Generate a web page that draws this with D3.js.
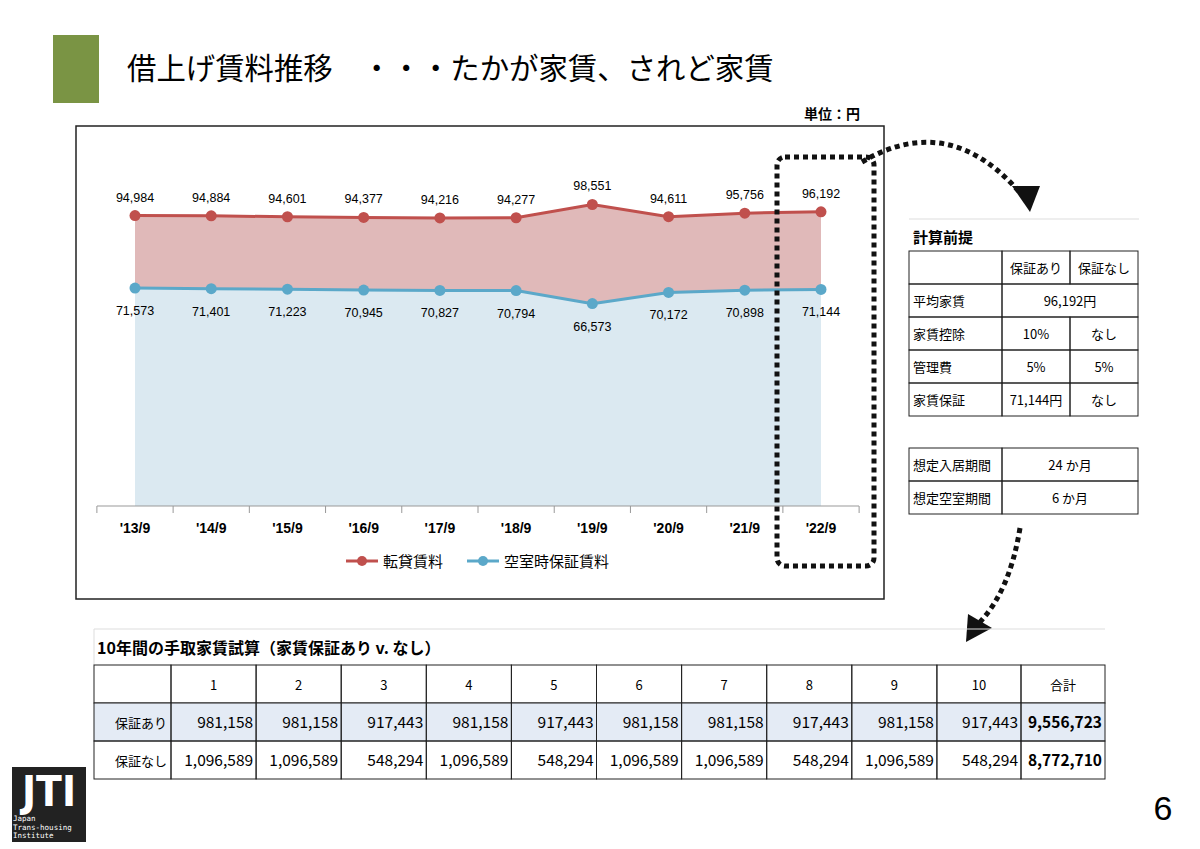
<!DOCTYPE html>
<html><head><meta charset="utf-8">
<script src="https://cdn.jsdelivr.net/npm/d3@7"></script>
<style>body{margin:0;background:#fff;font-family:"Noto Sans CJK JP","Noto Sans",sans-serif}</style>
</head><body>
<script>
const years = ["'13/9","'14/9","'15/9","'16/9","'17/9","'18/9","'19/9","'20/9","'21/9","'22/9"];
const rentValues = [94984,94884,94601,94377,94216,94277,98551,94611,95756,96192];
const guaranteeValues = [71573,71401,71223,70945,70827,70794,66573,70172,70898,71144];
const premiseRows = [["","保証あり","保証なし"],["平均家賃","96,192円",null],["家賃控除","10%","なし"],["管理費","5%","5%"],["家賃保証","71,144円","なし"]];
const periodRows = [["想定入居期間","24 か月"],["想定空室期間","6 か月"]];
const yearCols = ["1","2","3","4","5","6","7","8","9","10","合計"];
const withGuarantee = ["981,158","981,158","917,443","981,158","917,443","981,158","981,158","917,443","981,158","917,443","9,556,723"];
const withoutGuarantee = ["1,096,589","1,096,589","548,294","1,096,589","548,294","1,096,589","1,096,589","548,294","1,096,589","548,294","8,772,710"];

const F = '"Noto Sans CJK JP",sans-serif';
const svg = d3.select("body").append("svg").attr("width",1200).attr("height",849).style("font-family",F);

// header
svg.append("rect").attr("x",53).attr("y",35).attr("width",46).attr("height",68).attr("fill","#7a9444");
svg.append("text").attr("x",127).attr("y",79).attr("font-size",29.4).text("借上げ賃料推移　・・・たかが家賃、されど家賃");
svg.append("text").attr("x",860).attr("y",119).attr("font-size",14).attr("font-weight","bold").attr("text-anchor","end").text("単位：円");

// chart frame
svg.append("rect").attr("x",76).attr("y",126).attr("width",808).attr("height",473).attr("fill","#fff").attr("stroke","#222").attr("stroke-width",1.5);

const x = d3.scalePoint().domain(years).range([135,821]);
const y = d3.scaleLinear().domain([0,100000]).range([510,200]);
const base = 506;
const g = svg.append("g");
g.append("path").datum(guaranteeValues).attr("fill","#dbe9f1")
 .attr("d",d3.area().x((d,i)=>x(years[i])).y0(base).y1(d=>y(d)));
g.append("path").datum(rentValues).attr("fill","#e0b9b9")
 .attr("d",d3.area().x((d,i)=>x(years[i])).y0((d,i)=>y(guaranteeValues[i])).y1(d=>y(d)));
const xAxis = g.append("g").attr("transform",`translate(0,${base})`);
const step = x.step();
xAxis.append("line").attr("x1",97).attr("x2",859).attr("stroke","#999");
xAxis.selectAll(".tk").data(d3.range(years.length+1)).join("line")
 .attr("x1",i=>x(years[0])-step/2+i*step).attr("x2",i=>x(years[0])-step/2+i*step).attr("y2",7).attr("stroke","#999");
xAxis.selectAll("text").data(years).join("text").attr("x",d=>x(d)).attr("y",27).attr("text-anchor","middle")
 .attr("font-size",14).attr("font-family","Liberation Sans,sans-serif").attr("font-weight","bold").text(d=>d);

function series(vals,color,dy){
  g.append("path").datum(vals).attr("fill","none").attr("stroke",color).attr("stroke-width",3)
   .attr("d",d3.line().x((d,i)=>x(years[i])).y(d=>y(d)));
  g.selectAll(null).data(vals).join("circle").attr("cx",(d,i)=>x(years[i])).attr("cy",d=>y(d)).attr("r",5.5).attr("fill",color);
  g.selectAll(null).data(vals).join("text").attr("x",(d,i)=>x(years[i])).attr("y",d=>y(d)+dy)
   .attr("text-anchor","middle").attr("font-size",12.5).attr("font-family","Liberation Sans,sans-serif")
   .text(d=>d3.format(",")(d));
}
series(rentValues,"#c0504d",-14);
series(guaranteeValues,"#5ba8c9",27);

// legend
[["転貸賃料","#c0504d",346],["空室時保証賃料","#5ba8c9",467]].forEach(([t,c,lx])=>{
  svg.append("line").attr("x1",lx).attr("x2",lx+32).attr("y1",561).attr("y2",561).attr("stroke",c).attr("stroke-width",3);
  svg.append("circle").attr("cx",lx+16).attr("cy",561).attr("r",5).attr("fill",c);
  svg.append("text").attr("x",lx+37).attr("y",567).attr("font-size",15).text(t);
});

// dashed highlight
svg.append("rect").attr("x",777).attr("y",157).attr("width",97).attr("height",409).attr("rx",8)
 .attr("fill","none").attr("stroke","#111").attr("stroke-width",5).attr("stroke-dasharray","5,4");
svg.append("path").attr("d","M862,162 Q950,110 1022,195").attr("fill","none").attr("stroke","#111").attr("stroke-width",5).attr("stroke-dasharray","5,4");
svg.append("path").attr("d","M1012,186 L1040,186 L1030,212 Z").attr("fill","#111");
svg.append("path").attr("d","M1020,528 Q1010,590 980,622").attr("fill","none").attr("stroke","#111").attr("stroke-width",5).attr("stroke-dasharray","5,4");
svg.append("path").attr("d","M968,614 L992,628 L966,642 Z").attr("fill","#111");

// premise table
svg.append("line").attr("x1",909).attr("x2",1139).attr("y1",219).attr("y2",219).attr("stroke","#ddd");
svg.append("text").attr("x",913).attr("y",243).attr("font-size",15).attr("font-weight","bold").text("計算前提");
const cw=[909,1002,1070,1138], rh=33, ty=251;
premiseRows.forEach((r,ri)=>{
  const yy=ty+ri*rh;
  if(r[2]===null){
    svg.append("rect").attr("x",cw[0]).attr("y",yy).attr("width",cw[1]-cw[0]).attr("height",rh).attr("fill","none").attr("stroke","#222");
    svg.append("rect").attr("x",cw[1]).attr("y",yy).attr("width",cw[3]-cw[1]).attr("height",rh).attr("fill","none").attr("stroke","#222");
    svg.append("text").attr("x",cw[0]+4).attr("y",yy+22).attr("font-size",13).text(r[0]);
    svg.append("text").attr("x",(cw[1]+cw[3])/2).attr("y",yy+22).attr("font-size",13).attr("text-anchor","middle").text(r[1]);
    return;
  }
  r.forEach((t,ci)=>{
    svg.append("rect").attr("x",cw[ci]).attr("y",yy).attr("width",cw[ci+1]-cw[ci]).attr("height",rh).attr("fill","none").attr("stroke","#222");
    svg.append("text").attr("x",ci?(cw[ci]+cw[ci+1])/2:cw[0]+4).attr("y",yy+22).attr("font-size",13)
     .attr("text-anchor",ci?"middle":"start").text(t);
  });
});
periodRows.forEach((r,ri)=>{
  const yy=448+ri*rh;
  svg.append("rect").attr("x",cw[0]).attr("y",yy).attr("width",cw[1]-cw[0]).attr("height",rh).attr("fill","none").attr("stroke","#222");
  svg.append("rect").attr("x",cw[1]).attr("y",yy).attr("width",cw[3]-cw[1]).attr("height",rh).attr("fill","none").attr("stroke","#222");
  svg.append("text").attr("x",cw[0]+4).attr("y",yy+22).attr("font-size",13).text(r[0]);
  svg.append("text").attr("x",(cw[1]+cw[3])/2).attr("y",yy+22).attr("font-size",13).attr("text-anchor","middle").text(r[1]);
});

// bottom table
svg.append("line").attr("x1",94).attr("x2",1105).attr("y1",629).attr("y2",629).attr("stroke","#ddd");
svg.append("line").attr("x1",94).attr("x2",94).attr("y1",629).attr("y2",665).attr("stroke","#ddd");
svg.append("text").attr("x",97).attr("y",654).attr("font-size",16).attr("font-weight","bold").text("10年間の手取家賃試算（家賃保証あり v. なし）");
const bx = d3.range(12).map(i=>i===0?94:171+(i-1)*85.1);
bx[11]=1021; bx.push(1105);
const by=[665,703,741,779];
const rows=[["",...yearCols],["保証あり",...withGuarantee],["保証なし",...withoutGuarantee]];
rows.forEach((r,ri)=>{
  if(ri===1) svg.append("rect").attr("x",94).attr("y",by[1]).attr("width",1011).attr("height",38).attr("fill","#e4ebf5");
  r.forEach((t,ci)=>{
    svg.append("rect").attr("x",bx[ci]).attr("y",by[ri]).attr("width",bx[ci+1]-bx[ci]).attr("height",38).attr("fill","none").attr("stroke","#222");
    const last = ci===r.length-1 && ri>0;
    const txt = svg.append("text").attr("y",by[ri]+25).attr("font-size",ri===0||ci===0?13:15.5).text(t);
    if(ri===0) txt.attr("x",(bx[ci]+bx[ci+1])/2).attr("text-anchor","middle");
    else if(ci===0) txt.attr("x",bx[1]-4).attr("text-anchor","end");
    else txt.attr("x",bx[ci+1]-3).attr("text-anchor","end").attr("font-weight",last?"bold":"normal");
  });
});

// logo
svg.append("rect").attr("x",12).attr("y",767).attr("width",74).attr("height",75).attr("fill","#222");
svg.append("text").attr("x",49).attr("y",806).attr("font-size",42).attr("font-weight","bold").attr("fill","#fff").attr("text-anchor","middle").attr("font-family","DejaVu Sans Condensed,sans-serif").text("JTI");
["Japan","Trans-housing","Institute"].forEach((t,i)=>svg.append("text").attr("x",13).attr("y",821+i*8.5).attr("font-size",7.5).attr("fill","#fff").attr("font-family","DejaVu Sans Mono,monospace").text(t));
svg.append("text").attr("x",1163).attr("y",820).attr("font-size",34).attr("text-anchor","middle").attr("font-family","Liberation Sans,sans-serif").text("6");
</script>
</body></html>
